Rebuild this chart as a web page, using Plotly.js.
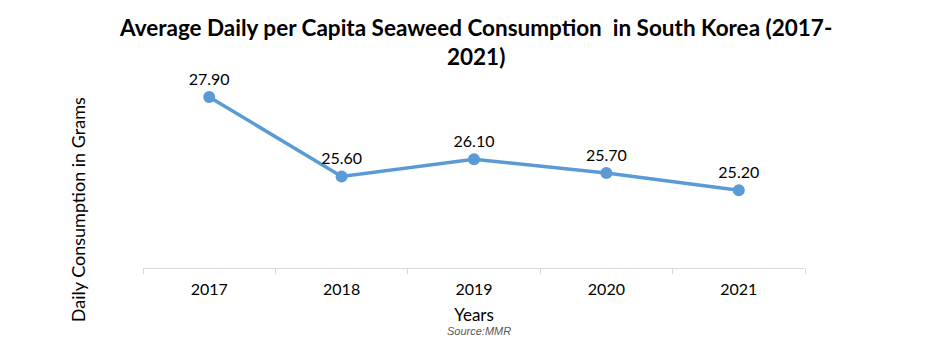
<!DOCTYPE html>
<html><head><meta charset="utf-8">
<script src="https://cdn.plot.ly/plotly-3.0.1.min.js"></script>
<style>html,body{margin:0;padding:0;background:#fff}#chart{width:931px;height:355px}</style>
</head><body><div id="chart"></div>
<script>
const years = ['2017','2018','2019','2020','2021'];
const consumption = [27.90, 25.60, 26.10, 25.70, 25.20];
const labels = consumption.map(v => v.toFixed(2));

const font = 'Lato, "Open Sans", sans-serif';
const trace = {
  x: years, y: consumption, type: 'scatter', mode: 'lines+markers+text',
  text: labels, textposition: 'top center',
  textfont: {family: font, size: 16, color: '#000'},
  line: {color: '#5B9BD5', width: 3.5},
  marker: {color: '#5B9BD5', size: 12},
  cliponaxis: false, hoverinfo: 'skip'
};
const layout = {
  width: 931, height: 355,
  margin: {l: 143, r: 126, t: 59, b: 87},
  paper_bgcolor: '#fff', plot_bgcolor: '#fff',
  showlegend: false,
  xaxis: {type: 'category', range: [-0.5, 4.5], showgrid: false, zeroline: false,
    showline: true, linecolor: '#d9d9d9', linewidth: 1,
    ticks: 'outside', tickson: 'boundaries', ticklen: 5, tickcolor: '#d9d9d9',
    ticklabelstandoff: 7,
    tickfont: {family: font, size: 16, color: '#000'},
    title: {text: 'Years', font: {family: font, size: 17, color: '#000'}, standoff: 11}},
  yaxis: {range: [22.95, 29], visible: false, showgrid: false, zeroline: false},
  annotations: [
    {text: '<b>Average Daily per Capita Seaweed Consumption  in South Korea (2017-<br>2021)</b>',
     xref: 'paper', yref: 'paper', x: 0.502, xanchor: 'center', y: 1.225, yanchor: 'top',
     showarrow: false, align: 'center',
     font: {family: font, size: 22.5, color: '#000'}},
    {text: 'Daily Consumption in Grams', textangle: -90, xref: 'paper', yref: 'paper',
     x: -0.097, xanchor: 'center', y: 0.28, yanchor: 'middle', showarrow: false,
     font: {family: font, size: 18, color: '#000'}},
    {text: '<i>Source:MMR</i>', xref: 'paper', yref: 'paper', x: 0.508, xanchor: 'center',
     y: -0.3, yanchor: 'middle', showarrow: false,
     font: {family: 'Liberation Sans, Arial, sans-serif', size: 11, color: '#595959'}}
  ]
};
Plotly.newPlot('chart', [trace], layout, {displayModeBar: false, staticPlot: true});
</script></body></html>
